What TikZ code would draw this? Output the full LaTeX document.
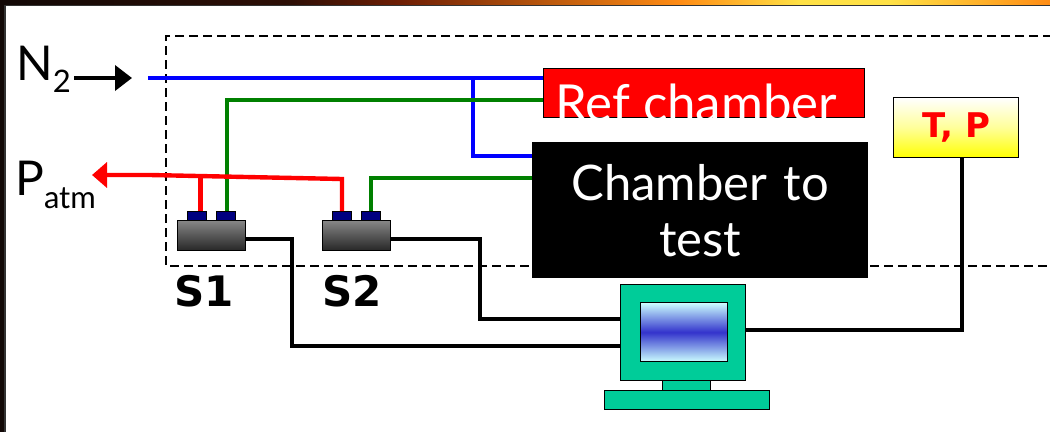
\documentclass[tikz,border=0pt]{standalone}
\usepackage{fontspec}
\setmainfont{Lato}
\newfontfamily\heavyfont{DejaVu Sans}
\usetikzlibrary{arrows.meta}
\definecolor{monitorgreen}{RGB}{0,204,153}
\definecolor{pipegreen}{RGB}{0,128,0}
\definecolor{portblue}{RGB}{0,0,128}
\definecolor{screenblue}{RGB}{51,51,204}
\definecolor{screenpale}{RGB}{204,255,255}
\definecolor{frameA}{RGB}{18,8,6}
\definecolor{frameB}{RGB}{110,30,5}
\definecolor{frameC}{RGB}{255,140,20}
\definecolor{frameD}{RGB}{255,225,70}
\newcommand\lowtext[2]{\raisebox{-#1}{\fontsize{31}{31}\selectfont #2}}
\begin{document}
\begin{tikzpicture}[
  x=1pt,
  y=-1pt,
  pipe/.style={line width=3.8pt},
  redpipe/.style={line width=4.4pt,red},
  wire/.style={line width=3.8pt,black},
  box/.style={draw=black,line width=1.4pt,inner sep=0pt,anchor=north west},
  sensor/.style={
    box,
    minimum width=68pt,
    minimum height=30pt,
    top color=gray!95,
    bottom color=black!85
  },
  port/.style={
    box,
    fill=portblue,
    minimum width=19pt,
    minimum height=9pt
  },
  pc/.style={box,fill=monitorgreen},
  tag/.style={font=\fontsize{48}{48}\selectfont,inner sep=0pt},
  heavy/.style={font=\heavyfont\fontsize{42}{42}\bfseries\selectfont,inner sep=0pt}
]
  \useasboundingbox (0,0) rectangle (1050,432);
  % slide frame
  \fill[frameA] (0,0) rectangle (5,432);
  \shade[left color=frameA,right color=frameA!70!frameB] (5,0) rectangle (290,5);
  \shade[left color=frameA!70!frameB,right color=frameB] (290,0) rectangle (400,5);
  \shade[left color=frameB,right color=frameC] (400,0) rectangle (680,5);
  \shade[left color=frameC,right color=frameD] (680,0) rectangle (800,5);
  \fill[frameD] (800,0) rectangle (890,5);
  \shade[left color=frameD,right color=frameC] (890,0) rectangle (1050,5);
  \draw[black!80,line width=1.4pt] (5,432) -- (5,5.5) -- (1050,5.5);

  \draw[line width=1.5pt,dash pattern=on 9pt off 5pt] (1052,36) -- (166,36) -- (166,266) -- (1052,266);

  % chambers
  \node[box,fill=red,minimum width=321pt,minimum height=49pt,
    label={[text=white,font=\fontsize{51}{51}\selectfont,inner sep=0pt,xshift=-8pt,yshift=-10pt]center:Ref chamber}] (refchamber) at (543,68) {};
  \node[box,fill=black,minimum width=335pt,minimum height=135pt,
    text width=335pt,align=center,text=white,
    font=\fontsize{49}{56}\selectfont] (testchamber) at (532,142) {Chamber to\\test};
  \node[box,top color=white,bottom color=yellow,middle color=white!60!yellow,minimum width=125pt,minimum height=60pt,
    text=red,font=\heavyfont\fontsize{34}{34}\bfseries\selectfont] (tp) at (893,97) {T, P};

  % valves
  \node[sensor] (s1) at (177,220) {};
  \node[sensor] (s2) at (322,220) {};
  \node[port] (s1red) at (187,211) {};
  \node[port] (s1green) at (216,211) {};
  \node[port] (s2red) at (332,211) {};
  \node[port] (s2green) at (361,211) {};
  \node[heavy] (s1text) at (204,291) {S1};
  \node[heavy] (s2text) at (352,291) {S2};

  % computer
  \node[pc,minimum width=125pt,minimum height=96pt] (monitor) at (620,284) {};
  \node[box,minimum width=87pt,minimum height=59pt,
    top color=screenpale,bottom color=screenpale,middle color=screenblue] (screen) at (640,302) {};
  \node[pc,minimum width=48pt,minimum height=10pt] (stand) at (662,380) {};
  \node[pc,minimum width=165pt,minimum height=19pt] (base) at (604,390) {};

  % labels
  \node[tag,anchor=base west] (n2) at (16,80) {N\lowtext{12pt}{2}};
  \node[tag,anchor=base west] (patm) at (15,195) {P\lowtext{13pt}{atm}};

  \coordinate (n2end) at (132,78);
  \coordinate (n2start) at (74,78);
  \coordinate (bluein) at (148,78);
  \coordinate (bluetee) at (473,78);
  \coordinate (greentop) at (227,100);
  \coordinate (greenlow) at (371,178);
  \coordinate (redtip) at (92,175);
  \coordinate (redbend) at (150,175);
  \coordinate (redcorner) at (342,179);
  \coordinate (redtee) at (200.5,177.5);
  \coordinate (s1turn) at (292,239);
  \coordinate (s2turn) at (480,239);
  \coordinate (s1pc) at (620,346);
  \coordinate (s2pc) at (620,319);
  \coordinate (tppc) at (745,330);
  \coordinate (tpdrop) at (962,157);

  \draw[wire,-{Triangle[length=17pt,width=25pt]}] (n2start) -- (n2end);

  % gas lines
  \draw[pipe,blue] (bluein) -- (bluein -| refchamber.west);
  \draw[pipe,blue] (bluetee) |- (testchamber.west |- 0,156);
  \draw[pipe,pipegreen] (greentop |- s1green.north) -- (greentop) -- (greentop -| refchamber.west);
  \draw[pipe,pipegreen] (greenlow |- s2green.north) -- (greenlow) -- (greenlow -| testchamber.west);
  \draw[redpipe,-{Triangle[length=15pt,width=25pt]}] (redcorner |- s2red.north) -- (redcorner) -- (redbend) -- (redtip);
  \draw[redpipe] (redtee |- s1red.north) -- (redtee);

  % signal wires
  \draw[wire] (s1turn -| s1.east) -- (s1turn) -- (s1turn |- s1pc) -- (s1pc);
  \draw[wire] (s2turn -| s2.east) -- (s2turn) -- (s2turn |- s2pc) -- (s2pc);
  \draw[wire] (tpdrop) |- (tppc);
\end{tikzpicture}
\end{document}
